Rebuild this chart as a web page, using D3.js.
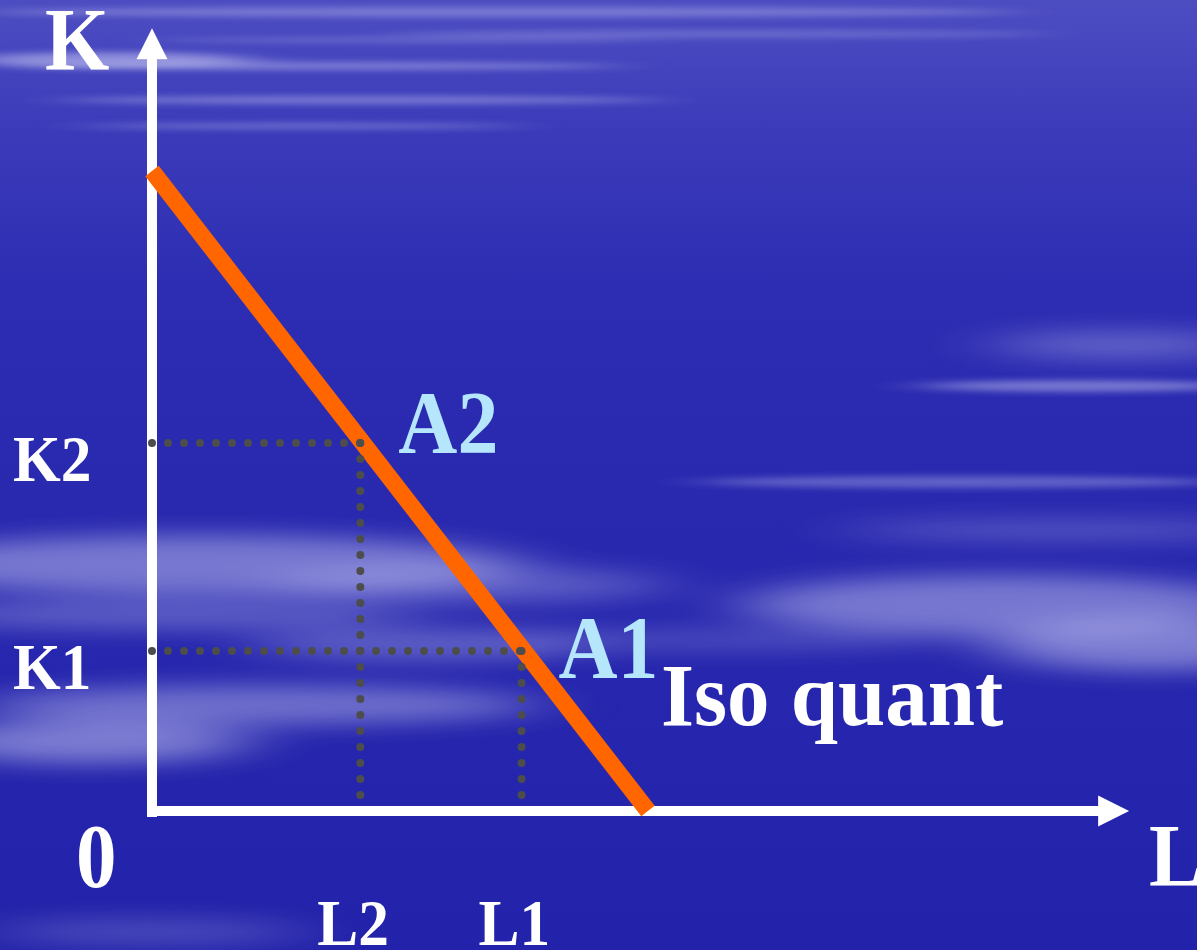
<!DOCTYPE html>
<html>
<head>
<meta charset="utf-8">
<title>Iso quant</title>
<script src="https://cdn.jsdelivr.net/npm/d3@7/dist/d3.min.js"></script>
<style>
  html, body { margin: 0; padding: 0; background: #2a2ab0; overflow: hidden; }
  svg { display: block; }
  text { font-family: "Liberation Serif", "Times New Roman", serif; font-weight: bold; }
</style>
</head>
<body>
<svg id="chart" width="1197" height="950"></svg>
<script>
// Isoquant K = 10 - L, with two input combinations on it
const isoquant = [{L: 0, K: 10}, {L: 10, K: 0}];
const pointNames = ["A2", "A1"];
const pointL = [4.2, 7.45];
const pointK = [5.75, 2.5];
const lTickLabels = ["L2", "L1"];
const kTickLabels = ["K2", "K1"];
const axisNames = {x: "L", y: "K", origin: "0"};
const curveName = "Iso quant";

const W = 1197, H = 950;
const svg = d3.select("#chart");

const x = d3.scaleLinear().domain([0, 10]).range([152, 648]);
const y = d3.scaleLinear().domain([0, 10]).range([811, 171]);
const lAxisEnd = 19.7, kAxisEnd = 12.23;

// ---- sky backdrop ----
const defs = svg.append("defs");
const grad = defs.append("linearGradient").attr("id", "sky")
  .attr("x1", 0).attr("y1", 0).attr("x2", 0).attr("y2", 1);
[[0, "#4d4dc2"], [0.14, "#3b3bba"], [0.3, "#2d2db3"], [0.7, "#2626ae"], [1, "#2222aa"]]
  .forEach(([o, c]) => grad.append("stop").attr("offset", o).attr("stop-color", c));
defs.append("filter").attr("id", "haze").attr("x", "-50%").attr("y", "-300%")
  .attr("width", "200%").attr("height", "700%")
  .append("feGaussianBlur").attr("stdDeviation", "40 11");
defs.append("filter").attr("id", "wisp").attr("x", "-50%").attr("y", "-300%")
  .attr("width", "200%").attr("height", "700%")
  .append("feGaussianBlur").attr("stdDeviation", "30 3");

svg.append("rect").attr("width", W).attr("height", H).attr("fill", "url(#sky)");

// broad soft banks of haze
const banks = [
  [200, 565, 320, 30, .42], [470, 585, 200, 18, .28], [160, 615, 260, 14, .3],
  [420, 645, 170, 16, .3], [260, 705, 280, 20, .38], [90, 742, 160, 22, .45],
  [1120, 345, 130, 14, .3], [1000, 605, 260, 30, .42], [1150, 645, 160, 26, .45],
  [720, 640, 220, 10, .22], [150, 932, 160, 14, .2], [1060, 530, 220, 10, .25]
];
// thin streaks
const wisps = [
  [500, 12, 520, 5, .3], [720, 34, 330, 4, .22], [110, 60, 140, 8, .45],
  [320, 66, 300, 4, .35], [360, 100, 300, 4, .35], [300, 126, 220, 3, .3],
  [1080, 386, 160, 6, .4], [960, 482, 260, 6, .3], [400, 40, 250, 3, .2]
];
svg.append("g").attr("filter", "url(#haze)")
  .selectAll("ellipse").data(banks).join("ellipse")
  .attr("cx", d => d[0]).attr("cy", d => d[1])
  .attr("rx", d => d[2]).attr("ry", d => d[3])
  .attr("fill", "#e4e4ff").attr("opacity", d => d[4]);
svg.append("g").attr("filter", "url(#wisp)")
  .selectAll("ellipse").data(wisps).join("ellipse")
  .attr("cx", d => d[0]).attr("cy", d => d[1])
  .attr("rx", d => d[2]).attr("ry", d => d[3])
  .attr("fill", "#e4e4ff").attr("opacity", d => d[4]);

// ---- axes with arrow heads ----
const axisG = svg.append("g").attr("fill", "#fff").attr("stroke", "#fff");
axisG.append("line")
  .attr("x1", x(0)).attr("x2", x(0))
  .attr("y1", y(0) + 6).attr("y2", y(kAxisEnd) + 30)
  .attr("stroke-width", 10);
axisG.append("line")
  .attr("x1", x(0) - 5).attr("x2", x(lAxisEnd) - 30)
  .attr("y1", y(0)).attr("y2", y(0))
  .attr("stroke-width", 10);
axisG.append("path").attr("stroke", "none")
  .attr("d", `M${x(0)},${y(kAxisEnd)} L${x(0) + 15.5},${y(kAxisEnd) + 31} L${x(0) - 15.5},${y(kAxisEnd) + 31} Z`);
axisG.append("path").attr("stroke", "none")
  .attr("d", `M${x(lAxisEnd)},${y(0)} L${x(lAxisEnd) - 31},${y(0) - 15.5} L${x(lAxisEnd) - 31},${y(0) + 15.5} Z`);

// ---- isoquant ----
svg.append("path").datum(isoquant)
  .attr("d", d3.line().x(d => x(d.L)).y(d => y(d.K)))
  .attr("fill", "none").attr("stroke", "#ff6600")
  .attr("stroke-width", 17).attr("stroke-linecap", "butt");

// ---- dotted guides ----
const guides = svg.append("g").attr("stroke", "#4d4d4d").attr("stroke-width", 8)
  .attr("stroke-linecap", "round").attr("stroke-dasharray", "0 16").attr("fill", "none");
pointL.forEach((l, i) => {
  guides.append("line")
    .attr("x1", x(0)).attr("x2", x(l))
    .attr("y1", y(pointK[i])).attr("y2", y(pointK[i]));
  guides.append("line")
    .attr("x1", x(l)).attr("x2", x(l))
    .attr("y1", y(pointK[i])).attr("y2", y(0) - 12);
});

// ---- labels ----
function label(txt, px, py, size, color, sx = 0.93) {
  svg.append("text")
    .attr("transform", `translate(${px},${py}) scale(${sx},1)`)
    .attr("font-size", size).attr("fill", color).text(txt);
}
label(axisNames.y, 45, 69, 89, "#fff");
label(axisNames.x, 1149, 885, 88, "#fff");
label(axisNames.origin, 76, 887, 90, "#fff", 0.9);
kTickLabels.forEach((t, i) => label(t, 13, y(pointK[i]) + 38, 66, "#fff"));
lTickLabels.forEach((t, i) => label(t, x(pointL[i]) - 43, 945, 66, "#fff"));
pointNames.forEach((t, i) => label(t, x(pointL[i]) + (i === 0 ? 38 : 37), y(pointK[i]) + (i === 0 ? 9 : 26), 88, "#b5e6fb"));
label(curveName, 661, 725, 88, "#fff", 0.965);
</script>
</body>
</html>
